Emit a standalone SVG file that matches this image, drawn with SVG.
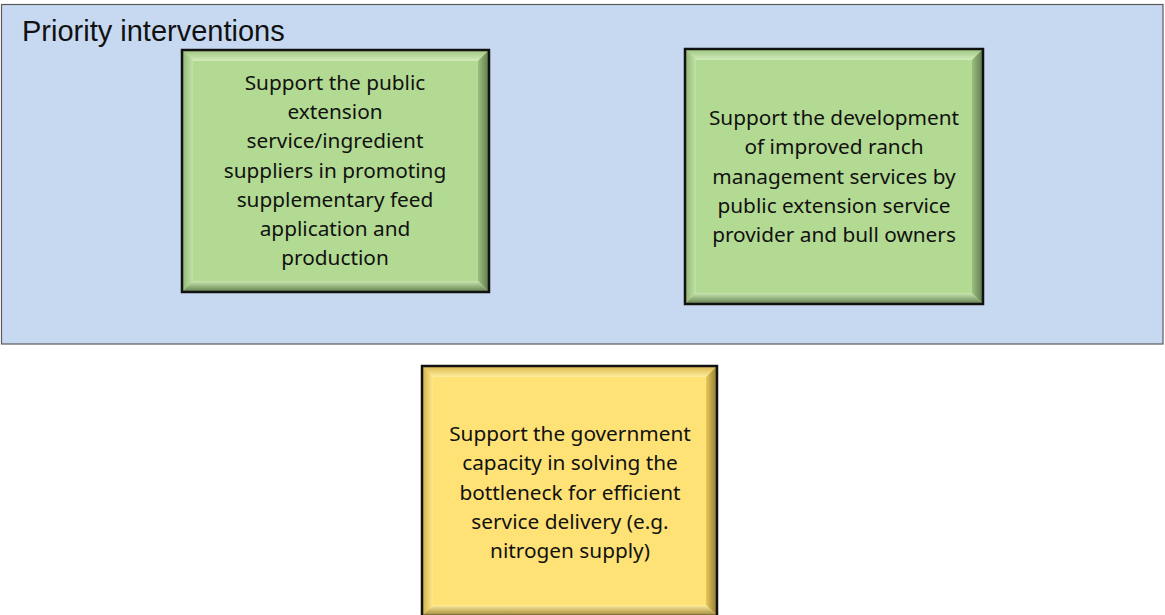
<svg xmlns="http://www.w3.org/2000/svg" width="1165" height="615" viewBox="0 0 1165 615">
<style>
.t{font-family:"Noto Sans","Open Sans",sans-serif;font-size:20.8px;fill:#111;text-anchor:middle}
.title{font-family:"Liberation Sans",Arial,sans-serif;font-size:29px;fill:#111}
.edge{fill:none;stroke:#111;stroke-width:2.5}
</style>
<defs>
<linearGradient id="gTop" x1="0" y1="0" x2="0" y2="1"><stop offset="0" stop-color="#9DC47E"/><stop offset="1" stop-color="#D2ECBC"/></linearGradient>
<linearGradient id="gLeft" x1="0" y1="0" x2="1" y2="0"><stop offset="0" stop-color="#8FB570"/><stop offset="1" stop-color="#C3E2AA"/></linearGradient>
<linearGradient id="gRight" x1="0" y1="0" x2="1" y2="0"><stop offset="0" stop-color="#9CBF80"/><stop offset="1" stop-color="#5E7A4B"/></linearGradient>
<linearGradient id="gBot" x1="0" y1="0" x2="0" y2="1"><stop offset="0" stop-color="#C8E6B0"/><stop offset="1" stop-color="#617F4D"/></linearGradient>
<linearGradient id="yTop" x1="0" y1="0" x2="0" y2="1"><stop offset="0" stop-color="#D9B54A"/><stop offset="1" stop-color="#FFEE9E"/></linearGradient>
<linearGradient id="yLeft" x1="0" y1="0" x2="1" y2="0"><stop offset="0" stop-color="#CFAE45"/><stop offset="1" stop-color="#FFE98E"/></linearGradient>
<linearGradient id="yRight" x1="0" y1="0" x2="1" y2="0"><stop offset="0" stop-color="#E9C95A"/><stop offset="1" stop-color="#8E7A33"/></linearGradient>
<linearGradient id="yBot" x1="0" y1="0" x2="0" y2="1"><stop offset="0" stop-color="#FFEE9E"/><stop offset="1" stop-color="#9C8434"/></linearGradient>
</defs>
<rect id="panel" x="1.5" y="4.5" width="1161.5" height="339.5" fill="#C6D9F1" stroke="#5a5a5a" stroke-width="1.2"/>
<text class="title" x="22" y="41">Priority interventions</text>
<g id="connectors"/>
<g id="node1">
<rect x="182" y="50" width="307" height="242" fill="#B3DA92"/>
<polygon points="182,50 489,50 478,61 193,61" fill="url(#gTop)"/>
<polygon points="182,50 193,61 193,281 182,292" fill="url(#gLeft)"/>
<polygon points="489,50 489,292 478,281 478,61" fill="url(#gRight)"/>
<polygon points="182,292 489,292 478,281 193,281" fill="url(#gBot)"/>
<rect class="edge" x="182" y="50" width="307" height="242"/>
<text class="t" x="335" y="90">Support the public</text>
<text class="t" x="335" y="119">extension</text>
<text class="t" x="335" y="148">service/ingredient</text>
<text class="t" x="335" y="178">suppliers in promoting</text>
<text class="t" x="335" y="207">supplementary feed</text>
<text class="t" x="335" y="236">application and</text>
<text class="t" x="335" y="265">production</text>
</g>
<g id="node2">
<rect x="685" y="49" width="298" height="255" fill="#B3DA92"/>
<polygon points="685,49 983,49 972,60 696,60" fill="url(#gTop)"/>
<polygon points="685,49 696,60 696,293 685,304" fill="url(#gLeft)"/>
<polygon points="983,49 983,304 972,293 972,60" fill="url(#gRight)"/>
<polygon points="685,304 983,304 972,293 696,293" fill="url(#gBot)"/>
<rect class="edge" x="685" y="49" width="298" height="255"/>
<text class="t" x="834" y="125">Support the development</text>
<text class="t" x="834" y="154">of improved ranch</text>
<text class="t" x="834" y="184">management services by</text>
<text class="t" x="834" y="213">public extension service</text>
<text class="t" x="834" y="242">provider and bull owners</text>
</g>
<g id="node3">
<rect x="422" y="366" width="295" height="250" fill="#FFE275"/>
<polygon points="422,366 717,366 706,377 433,377" fill="url(#yTop)"/>
<polygon points="422,366 433,377 433,605 422,616" fill="url(#yLeft)"/>
<polygon points="717,366 717,616 706,605 706,377" fill="url(#yRight)"/>
<polygon points="422,616 717,616 706,605 433,605" fill="url(#yBot)"/>
<rect class="edge" x="422" y="366" width="295" height="250"/>
<text class="t" x="570" y="441">Support the government</text>
<text class="t" x="570" y="470">capacity in solving the</text>
<text class="t" x="570" y="500">bottleneck for efficient</text>
<text class="t" x="570" y="529">service delivery (e.g.</text>
<text class="t" x="570" y="558">nitrogen supply)</text>
</g>
</svg>
